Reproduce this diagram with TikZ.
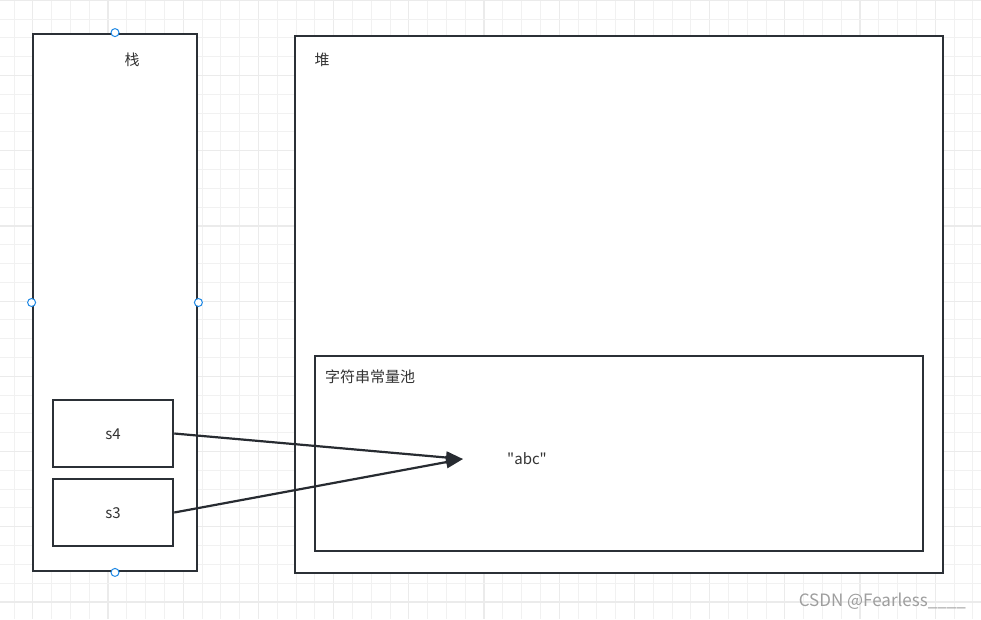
\documentclass[tikz,border=0pt]{standalone}
\usepackage{fontspec}
\setmainfont{Noto Sans CJK SC}[Ligatures=TeXOff]
\usetikzlibrary{arrows.meta}
\definecolor{edge}{HTML}{2B3036}
\definecolor{txt}{HTML}{333333}
\definecolor{minorg}{HTML}{F1F1F1}
\definecolor{majorg}{HTML}{EBEBEB}
\definecolor{handle}{HTML}{1E88E5}
\tikzset{
  box/.style={draw=edge, line width=2.8pt, fill=white, inner sep=0pt, rectangle},
  lbl/.style={text=txt, font=\fontsize{15}{18}\selectfont, inner sep=0pt},
  conn/.style={draw=edge!90!black, line width=2.2pt, -{Triangle[length=17pt,width=12pt]}},
  hdl/.style={circle, draw=handle, fill=white, line width=1pt, minimum size=8pt, inner sep=0pt},
  minorgrid/.style={draw=minorg, line width=1pt},
  majorgrid/.style={draw=majorg, line width=1.2pt},
}
\begin{document}
\begin{tikzpicture}[x=1pt,y=-1pt]
\useasboundingbox (0,0) rectangle (981,619);
\fill[white] (0,0) rectangle (981,619);
% grid
\foreach \k in {0,...,52} {
  \pgfmathsetmacro\xx{14+18.8*\k}
  \pgfmathtruncatemacro\m{mod(\k,4)}
  \ifnum\m=1 \draw[majorgrid] (\xx,0) -- (\xx,619); \else \draw[minorgrid] (\xx,0) -- (\xx,619); \fi
}
\foreach \k in {0,...,33} {
  \pgfmathsetmacro\yy{0.3+18.8*\k}
  \pgfmathtruncatemacro\m{mod(\k,4)}
  \ifnum\m=0 \draw[majorgrid] (0,\yy) -- (981,\yy); \else \draw[minorgrid] (0,\yy) -- (981,\yy); \fi
}
% stack
\node[box, minimum width=164pt, minimum height=537pt] (stack) at (115,302.5) {};
\node[lbl] (stacklbl) at (132,60) {栈};
% heap
\node[box, minimum width=648pt, minimum height=537pt] (heap) at (619,304.5) {};
\node[lbl] (heaplbl) at (322,60) {堆};
% pool
\node[box, minimum width=608pt, minimum height=195pt] (pool) at (619,453.5) {};
\node[lbl, anchor=west] (poollbl) at (325,377) {字符串常量池};
% s4 s3
\node[box, line width=2.5pt, minimum width=120pt, minimum height=67pt] (s4) at (113,433.5) {};
\node[lbl] (s4lbl) at (113,434) {s4};
\node[box, line width=2.5pt, minimum width=120pt, minimum height=67pt] (s3) at (113,512.5) {};
\node[lbl] (s3lbl) at (113,513) {s3};
% abc
\node[lbl] (abc) at (527,459) {"abc"};
\coordinate (tip) at (463,459);
\draw[conn] (s4.east) -- (tip);
\draw[conn] (s3.east) -- (tip);
% handles
\node[hdl] (h1) at (stack.north) {};
\node[hdl] (h2) at (stack.west) {};
\node[hdl] (h3) at (stack.east) {};
\node[hdl] (h4) at (stack.south) {};
% watermark
\node[text=black!38, font=\fontsize{17}{20}\selectfont, inner sep=0pt, anchor=east] (wm) at (966,601) {CSDN @Fearless\_\_\_\_};
\end{tikzpicture}
\end{document}
